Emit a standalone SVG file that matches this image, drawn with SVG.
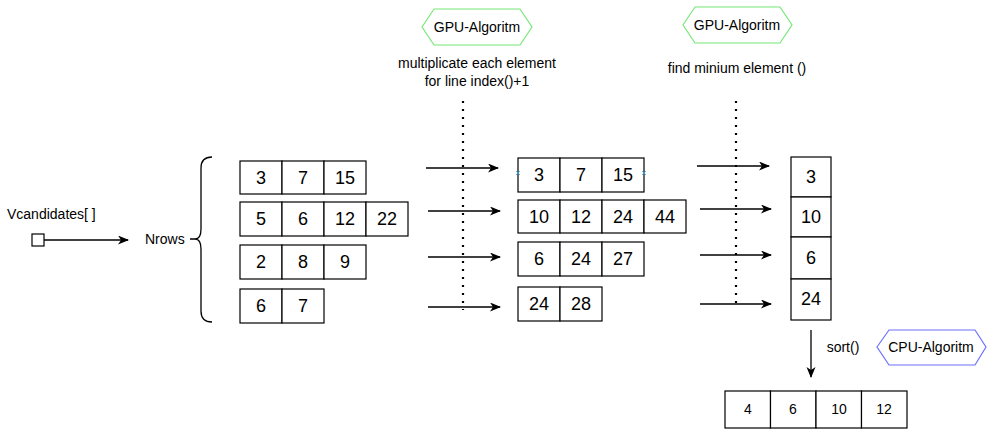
<svg xmlns="http://www.w3.org/2000/svg" width="998" height="441" viewBox="0 0 998 441">
<defs>
<style>
text{font-family:"Liberation Sans",Arial,sans-serif;fill:#000;}
.t14{font-size:14px;}
.num{font-size:18px;text-anchor:middle;}
.sm{font-size:14px;text-anchor:middle;}
.mid{text-anchor:middle;}
.cell{fill:#fff;stroke:#000;stroke-width:1.2;}
.conn{fill:none;stroke:#000;stroke-width:1.3;}
.dot{fill:none;stroke:#000;stroke-width:2.2;stroke-dasharray:2 6;}
.hexg{fill:#fff;stroke:#77e877;stroke-width:1.2;}
.hexb{fill:#fff;stroke:#6f6fff;stroke-width:1.2;}
.mark{stroke:#3aa0e6;stroke-width:0.8;}
</style>
<marker id="arr" markerUnits="userSpaceOnUse" markerWidth="12" markerHeight="10" refX="10" refY="4.5" orient="auto">
<path d="M0,0 L11,4.5 L0,9 L3,4.5 Z" fill="#000"/>
</marker>
</defs>
<rect width="998" height="441" fill="#fff"/>

<g id="vcandidates">
<text class="t14" x="7" y="219">Vcandidates[ ]</text>
<rect x="32" y="234" width="12" height="12" class="cell"/>
</g>

<g id="nrows">
<text class="t14" x="145" y="244">Nrows</text>
<path d="M212,157 Q201,157 201,168 L201,229 Q201,239 195,239 Q201,239 201,249 L201,311 Q201,322 212,322 M190,239 L195,239" class="conn"/>
</g>

<g id="grid-left">
<rect x="240" y="161" width="42" height="33" class="cell"/>
<rect x="282" y="161" width="42" height="33" class="cell"/>
<rect x="324" y="161" width="42" height="33" class="cell"/>
<text class="num" x="261" y="184">3</text><text class="num" x="303" y="184">7</text><text class="num" x="345" y="184">15</text>
<rect x="240" y="202" width="42" height="34" class="cell"/>
<rect x="282" y="202" width="42" height="34" class="cell"/>
<rect x="324" y="202" width="42" height="34" class="cell"/>
<rect x="366" y="202" width="42" height="34" class="cell"/>
<text class="num" x="261" y="225">5</text><text class="num" x="303" y="225">6</text><text class="num" x="345" y="225">12</text><text class="num" x="387" y="225">22</text>
<rect x="240" y="245" width="42" height="34" class="cell"/>
<rect x="282" y="245" width="42" height="34" class="cell"/>
<rect x="324" y="245" width="42" height="34" class="cell"/>
<text class="num" x="261" y="268">2</text><text class="num" x="303" y="268">8</text><text class="num" x="345" y="268">9</text>
<rect x="240" y="289" width="42" height="34" class="cell"/>
<rect x="282" y="289" width="42" height="34" class="cell"/>
<text class="num" x="261" y="312">6</text><text class="num" x="303" y="312">7</text>
</g>

<g id="gpu-1">
<polygon points="422,27 434,9 520,9 532,27 520,45 434,45" class="hexg"/>
<text class="t14 mid" x="477" y="32">GPU-Algoritm</text>
</g>
<g id="label-multiplicate">
<text class="t14 mid" x="477" y="68">multiplicate each element</text>
<text class="t14 mid" x="477" y="86">for line index()+1</text>
</g>

<g id="grid-mid">
<rect x="518" y="158" width="42" height="34" class="cell"/>
<rect x="560" y="158" width="42" height="34" class="cell"/>
<rect x="602" y="158" width="42" height="34" class="cell"/>
<text class="num" x="539" y="181">3</text><text class="num" x="581" y="181">7</text><text class="num" x="623" y="181">15</text>
<rect x="518" y="200" width="42" height="33" class="cell"/>
<rect x="560" y="200" width="42" height="33" class="cell"/>
<rect x="602" y="200" width="42" height="33" class="cell"/>
<rect x="644" y="200" width="42" height="33" class="cell"/>
<text class="num" x="539" y="223">10</text><text class="num" x="581" y="223">12</text><text class="num" x="623" y="223">24</text><text class="num" x="665" y="223">44</text>
<rect x="518" y="242" width="42" height="34" class="cell"/>
<rect x="560" y="242" width="42" height="34" class="cell"/>
<rect x="602" y="242" width="42" height="34" class="cell"/>
<text class="num" x="539" y="265">6</text><text class="num" x="581" y="265">24</text><text class="num" x="623" y="265">27</text>
<rect x="518" y="287" width="42" height="34" class="cell"/>
<rect x="560" y="287" width="42" height="34" class="cell"/>
<text class="num" x="539" y="310">24</text><text class="num" x="581" y="310">28</text>
<path d="M516,171 l4,4 M520,171 l-4,4 M642,171 l4,4 M646,171 l-4,4" class="mark"/>
</g>

<g id="gpu-2">
<polygon points="683,25 695,7 780,7 792,25 780,43 695,43" class="hexg"/>
<text class="t14 mid" x="737" y="30">GPU-Algoritm</text>
</g>
<g id="label-find">
<text class="t14 mid" x="737" y="73">find minium element ()</text>
</g>

<g id="column-min">
<rect x="791" y="157" width="40" height="40" class="cell"/>
<rect x="791" y="197" width="40" height="40" class="cell"/>
<rect x="791" y="237" width="40" height="42" class="cell"/>
<rect x="791" y="279" width="40" height="41" class="cell"/>
<text class="num" x="811" y="183">3</text>
<text class="num" x="811" y="223">10</text>
<text class="num" x="811" y="264">6</text>
<text class="num" x="811" y="305">24</text>
</g>

<g id="sort-label">
<text class="t14 mid" x="843" y="352">sort()</text>
</g>
<g id="cpu">
<polygon points="877,347 889,330 975,330 986,347 975,365 889,365" class="hexb"/>
<text class="t14 mid" x="931" y="352">CPU-Algoritm</text>
</g>

<g id="sorted">
<rect x="725" y="391" width="45.5" height="37" class="cell"/>
<rect x="770.5" y="391" width="45.5" height="37" class="cell"/>
<rect x="816" y="391" width="45.5" height="37" class="cell"/>
<rect x="861.5" y="391" width="45.5" height="37" class="cell"/>
<text class="sm" x="748" y="414">4</text>
<text class="sm" x="793" y="414">6</text>
<text class="sm" x="839" y="414">10</text>
<text class="sm" x="884" y="414">12</text>
</g>

<g id="connectors">
<line x1="44" y1="240" x2="128" y2="240" class="conn" marker-end="url(#arr)"/>
<line x1="463" y1="101" x2="463" y2="310" class="dot"/>
<line x1="736" y1="101" x2="736" y2="306" class="dot"/>
<line x1="426" y1="168" x2="498" y2="168" class="conn" marker-end="url(#arr)"/>
<line x1="428" y1="211" x2="500" y2="211" class="conn" marker-end="url(#arr)"/>
<line x1="428" y1="257" x2="500" y2="257" class="conn" marker-end="url(#arr)"/>
<line x1="428" y1="307" x2="500" y2="307" class="conn" marker-end="url(#arr)"/>
<line x1="697" y1="166" x2="769" y2="166" class="conn" marker-end="url(#arr)"/>
<line x1="700" y1="209" x2="771" y2="209" class="conn" marker-end="url(#arr)"/>
<line x1="700" y1="255" x2="771" y2="255" class="conn" marker-end="url(#arr)"/>
<line x1="700" y1="304" x2="771" y2="304" class="conn" marker-end="url(#arr)"/>
<line x1="811" y1="330" x2="811" y2="377" class="conn" marker-end="url(#arr)"/>
</g>
</svg>
